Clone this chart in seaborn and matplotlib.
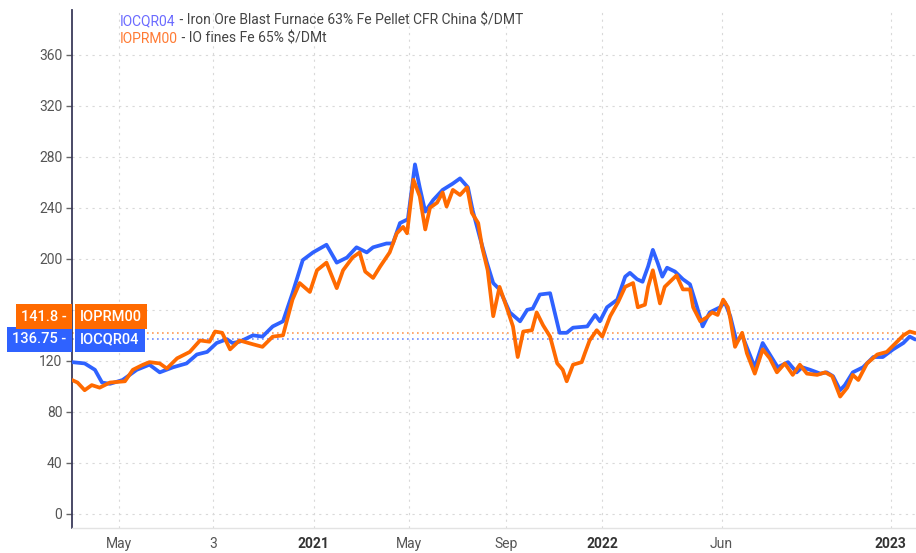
import matplotlib
matplotlib.use("Agg")
import matplotlib.pyplot as plt
import seaborn as sns
import pandas as pd

sns.set_style("white")
plt.rcParams['font.family'] = ['Roboto', 'DejaVu Sans']
plt.rcParams['font.size'] = 10

# IOCQR04 - Iron Ore Blast Furnace 63% Fe Pellet CFR China $/DMT
blue_dates = [
    '2020-03-01', '2020-03-17', '2020-03-30', '2020-04-08', '2020-04-18', '2020-05-04',
    '2020-05-22', '2020-06-07', '2020-06-20', '2020-07-07', '2020-07-24', '2020-08-06',
    '2020-08-19', '2020-08-31', '2020-09-13', '2020-09-20', '2020-09-29', '2020-10-16',
    '2020-10-28', '2020-11-10', '2020-11-23', '2020-12-05', '2020-12-18', '2020-12-31',
    '2021-01-17', '2021-01-30', '2021-02-12', '2021-02-24', '2021-03-09', '2021-03-17',
    '2021-04-03', '2021-04-11', '2021-04-20', '2021-04-30', '2021-05-09', '2021-05-15',
    '2021-05-22', '2021-06-01', '2021-06-13', '2021-06-26', '2021-07-05', '2021-07-15',
    '2021-07-21', '2021-07-30', '2021-08-08', '2021-08-16', '2021-08-24', '2021-09-06',
    '2021-09-19', '2021-09-28', '2021-10-05', '2021-10-14', '2021-10-27', '2021-11-08',
    '2021-11-17', '2021-11-25', '2021-12-13', '2021-12-23', '2021-12-29', '2022-01-07',
    '2022-01-20', '2022-01-30', '2022-02-05', '2022-02-14', '2022-02-21', '2022-02-28',
    '2022-03-06', '2022-03-12', '2022-03-18', '2022-03-24', '2022-04-03', '2022-04-13',
    '2022-04-22', '2022-05-01', '2022-05-08', '2022-05-17', '2022-05-30', '2022-06-05',
    '2022-06-12', '2022-06-20', '2022-06-27', '2022-07-04', '2022-07-13', '2022-07-23',
    '2022-08-01', '2022-08-11', '2022-08-24', '2022-09-04', '2022-09-11', '2022-09-21',
    '2022-10-04', '2022-10-12', '2022-10-20', '2022-10-29', '2022-11-04', '2022-11-14',
    '2022-11-27', '2022-12-10', '2022-12-22', '2023-01-04', '2023-01-17', '2023-01-25',
    '2023-02-01',
]
blue_values = [
    119, 118, 113, 103, 102, 105,
    113, 117, 111, 115, 118, 125,
    127, 134, 137, 134, 135, 140,
    139, 147, 151, 173, 199, 205,
    211, 197, 201, 209, 205, 209,
    212, 212, 228, 231, 274, 256,
    237, 246, 254, 259, 263, 256,
    238, 217, 197, 181, 176, 158,
    151, 160, 161, 172, 173, 142,
    142, 146, 147, 156, 151, 162,
    168, 186, 189, 184, 182, 194,
    207, 197, 186, 193, 190, 184,
    180, 162, 147, 158, 162, 166,
    155, 135, 140, 129, 115, 134,
    125, 115, 119, 111, 115, 113,
    110, 111, 108, 97, 101, 111,
    115, 123, 123, 129, 134, 139,
    136.75,
]

# IOPRM00 - IO fines Fe 65% $/DMt
orange_dates = [
    '2020-03-01', '2020-03-08', '2020-03-17', '2020-03-26', '2020-04-05', '2020-04-18',
    '2020-05-07', '2020-05-17', '2020-05-30', '2020-06-07', '2020-06-20', '2020-06-29',
    '2020-07-12', '2020-07-28', '2020-08-10', '2020-08-22', '2020-08-29', '2020-09-07',
    '2020-09-17', '2020-09-29', '2020-10-16', '2020-10-28', '2020-11-10', '2020-11-23',
    '2020-12-05', '2020-12-14', '2020-12-27', '2021-01-05', '2021-01-17', '2021-01-30',
    '2021-02-07', '2021-02-19', '2021-02-28', '2021-03-07', '2021-03-17', '2021-03-26',
    '2021-04-07', '2021-04-16', '2021-04-24', '2021-04-29', '2021-05-07', '2021-05-15',
    '2021-05-22', '2021-05-28', '2021-06-06', '2021-06-13', '2021-06-18', '2021-06-26',
    '2021-07-05', '2021-07-14', '2021-07-20', '2021-07-28', '2021-08-02', '2021-08-09',
    '2021-08-16', '2021-08-24', '2021-09-02', '2021-09-10', '2021-09-16', '2021-09-23',
    '2021-10-04', '2021-10-10', '2021-10-18', '2021-10-27', '2021-11-05', '2021-11-12',
    '2021-11-17', '2021-11-25', '2021-12-06', '2021-12-10', '2021-12-16', '2021-12-25',
    '2022-01-01', '2022-01-11', '2022-01-21', '2022-01-30', '2022-02-09', '2022-02-15',
    '2022-02-24', '2022-02-28', '2022-03-06', '2022-03-15', '2022-03-21', '2022-03-31',
    '2022-04-05', '2022-04-13', '2022-04-22', '2022-04-26', '2022-05-05', '2022-05-13',
    '2022-05-20', '2022-05-27', '2022-06-03', '2022-06-09', '2022-06-12', '2022-06-18',
    '2022-06-27', '2022-07-03', '2022-07-13', '2022-07-23', '2022-08-01', '2022-08-10',
    '2022-08-20', '2022-08-30', '2022-09-08', '2022-09-17', '2022-09-30', '2022-10-10',
    '2022-10-19', '2022-10-29', '2022-11-07', '2022-11-14', '2022-11-21', '2022-12-02',
    '2022-12-15', '2022-12-27', '2023-01-09', '2023-01-17', '2023-01-25', '2023-02-01',
]
orange_values = [
    105, 103, 97, 101, 99, 103,
    104, 113, 117, 119, 118, 114,
    122, 127, 136, 135, 143, 142,
    129, 136, 133, 131, 139, 140,
    168, 181, 174, 191, 197, 177,
    191, 201, 205, 190, 185, 194,
    205, 220, 225, 220, 262, 249,
    223, 240, 244, 252, 241, 254,
    250, 256, 236, 228, 209, 191,
    155, 178, 162, 147, 123, 143,
    144, 158, 148, 139, 118, 113,
    104, 117, 119, 126, 136, 144,
    139, 155, 166, 178, 181, 162,
    164, 178, 191, 165, 178, 184,
    187, 176, 176, 162, 151, 154,
    158, 156, 168, 162, 153, 131,
    142, 126, 110, 129, 122, 111,
    118, 109, 117, 110, 109, 111,
    108, 92, 99, 109, 105, 118,
    125, 127, 135, 140, 143, 141.8,
]

blue_code, blue_name = 'IOCQR04', 'Iron Ore Blast Furnace 63% Fe Pellet CFR China $/DMT'
orange_code, orange_name = 'IOPRM00', 'IO fines Fe 65% $/DMt'

tick_dates = ['2020-04-29', '2020-08-27', '2021-01-01', '2021-05-01', '2021-09-01',
              '2022-01-01', '2022-06-01', '2023-01-01']
tick_labels = ['May', '3', '2021', 'May', 'Sep', '2022', 'Jun', '2023']
y_ticks = list(range(0, 361, 40))

BLUE = '#2f62ff'
ORANGE = '#ff6a00'

blue_df = pd.DataFrame({'date': pd.to_datetime(blue_dates), 'price': blue_values})
orange_df = pd.DataFrame({'date': pd.to_datetime(orange_dates), 'price': orange_values})

fig = plt.figure(figsize=(9.16, 5.53), dpi=100)
ax = fig.add_axes([72 / 916, 1 - 528 / 553, 1 - 72 / 916, (528 - 10) / 553])

sns.lineplot(data=blue_df, x='date', y='price', ax=ax, color=BLUE, lw=2.7, zorder=3)
sns.lineplot(data=orange_df, x='date', y='price', ax=ax, color=ORANGE, lw=2.7, zorder=4)

# last-value reference lines
ax.axhline(blue_values[-1], color='#6f8cff', ls=(0, (1, 2)), lw=1.2, zorder=2)
ax.axhline(orange_values[-1], color='#ff9a55', ls=(0, (1, 2)), lw=1.2, zorder=2)

ax.set_xlim(pd.Timestamp('2020-03-01'), pd.Timestamp('2023-02-02'))
ax.set_ylim(-11, 395)
ax.set_yticks(y_ticks)
ax.set_xticks(pd.to_datetime(tick_dates))
ax.set_xticklabels(tick_labels)
for lab in ax.get_xticklabels():
    if lab.get_text().isdigit() and len(lab.get_text()) == 4:
        lab.set_fontweight('bold')
        lab.set_color('#333333')
    else:
        lab.set_color('#555555')
ax.set_xlabel('')
ax.set_ylabel('')

ax.grid(True, color='#d9d9d9', ls=(0, (2, 4)), lw=0.8)
ax.tick_params(axis='y', left=True, length=4, width=1, color='#666666',
               labelcolor='#555555', labelsize=10, pad=3)
ax.tick_params(axis='x', bottom=False, labelsize=10, pad=3)
for side in ['top', 'right']:
    ax.spines[side].set_visible(False)
ax.spines['left'].set_color('#3a3a5a')
ax.spines['left'].set_linewidth(1.3)
ax.spines['bottom'].set_color('#e3e3e3')
ax.spines['bottom'].set_linewidth(1)

# last-value tags on the y axis
box_h = 16.5  # points
tags = [(blue_values[-1], blue_code, BLUE, 0), (orange_values[-1], orange_code, ORANGE, box_h)]
for val, code, col, dy in tags:
    val_txt = f'{val:g} -'
    ax.annotate(val_txt, xy=(0, blue_values[-1]), xycoords=('axes fraction', 'data'),
                xytext=(-4, dy), textcoords='offset points', ha='right', va='center',
                color='white', fontsize=10.5, fontweight='medium', zorder=10,
                annotation_clip=False,
                bbox=dict(boxstyle='square,pad=0.35', fc=col, ec='none'))
    ax.annotate(code, xy=(0, blue_values[-1]), xycoords=('axes fraction', 'data'),
                xytext=(6, dy), textcoords='offset points', ha='left', va='center',
                color='white', fontsize=10.5, fontweight='medium', zorder=10,
                annotation_clip=False,
                bbox=dict(boxstyle='square,pad=0.35', fc=col, ec='none'))

# header legend
for i, (code, name, col) in enumerate([(blue_code, blue_name, '#6b6bff'),
                                       (orange_code, orange_name, '#ff7a33')]):
    t = fig.text(120 / 916, 1 - (25 + i * 18) / 553, code, color=col, fontsize=10)
    ax.annotate(' - ' + name, xy=(1, 0), xycoords=t, va='bottom', ha='left',
                color='#444444', fontsize=10, annotation_clip=False)

fig.savefig('out.png', dpi=100)
